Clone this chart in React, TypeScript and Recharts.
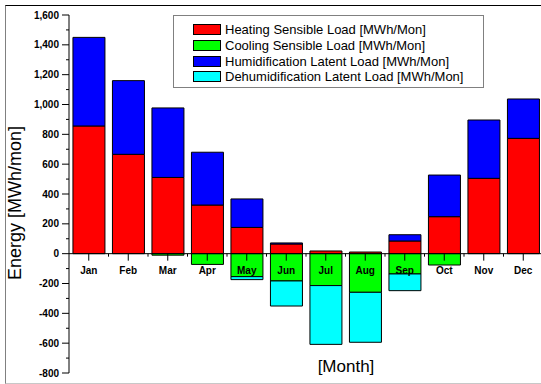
import { BarChart, Bar, XAxis, YAxis, ReferenceLine } from 'recharts';

const months = ['Jan', 'Feb', 'Mar', 'Apr', 'May', 'Jun', 'Jul', 'Aug', 'Sep', 'Oct', 'Nov', 'Dec'];
const heatingSensible = [856, 666, 511, 326, 176, 65, 18, 11, 85, 248, 505, 773];
const coolingSensible = [0, 0, -10, -72, -154, -183, -214, -259, -136, -76, 0, 0];
const humidLatent = [594, 494, 466, 354, 191, 7, 0, 0, 42, 279, 391, 264];
const dehumidLatent = [0, 0, 0, 0, -20, -168, -394, -335, -112, 0, 0, 0];
const yTicks = [-800, -700, -600, -500, -400, -300, -200, -100, 0, 100, 200, 300, 400, 500, 600, 700, 800, 900, 1000, 1100, 1200, 1300, 1400, 1500, 1600];

const SERIES = [
  { key: 'heating', name: 'Heating Sensible Load [MWh/Mon]', color: '#ff0000' },
  { key: 'cooling', name: 'Cooling Sensible Load [MWh/Mon]', color: '#00ff00' },
  { key: 'humid', name: 'Humidification Latent Load [MWh/Mon]', color: '#0000ff' },
  { key: 'dehumid', name: 'Dehumidification Latent Load [MWh/Mon]', color: '#00ffff' },
];

const data = months.map((m, i) => ({
  month: m,
  heating: heatingSensible[i],
  cooling: coolingSensible[i],
  humid: humidLatent[i],
  dehumid: dehumidLatent[i],
}));

// layout
const W = 548;
const H = 384;
const X_H = 1;
const M = { top: 15, right: 5, bottom: 10, left: 9 };
const Y_W = 60;
const PLOT_LEFT = M.left + Y_W;
const PLOT_W = W - PLOT_LEFT - M.right;
const PLOT_H = H - M.top - M.bottom - X_H;
const Y_MIN = -800;
const Y_MAX = 1600;
const ZERO_Y = M.top + (PLOT_H * Y_MAX) / (Y_MAX - Y_MIN);
const BAND = PLOT_W / months.length;

const FONT = '"Liberation Sans", Arial, sans-serif';

const fmt = (v: number) => v.toLocaleString('en-US');

function YTick(props: any) {
  const { y, payload } = props;
  const major = payload.value % 200 === 0;
  return (
    <g>
      <line x1={PLOT_LEFT - (major ? 7 : 3)} x2={PLOT_LEFT} y1={y} y2={y} stroke="#000" />
      {major && (
        <text x={PLOT_LEFT - 10} y={y} dy={3.5} textAnchor="end" fontSize={10} fontWeight="bold" fontFamily={FONT} fill="#000">
          {fmt(payload.value)}
        </text>
      )}
    </g>
  );
}

function XTick(props: any) {
  const { x, payload } = props;
  return (
    <g>
      <line x1={x} x2={x} y1={ZERO_Y} y2={ZERO_Y + 7} stroke="#000" />
      <line x1={x + BAND / 2} x2={x + BAND / 2} y1={ZERO_Y} y2={ZERO_Y + 3} stroke="#000" />
      <text x={x} y={ZERO_Y + 20} textAnchor="middle" fontSize={10} fontWeight="bold" fontFamily={FONT} fill="#000">
        {payload.value}
      </text>
    </g>
  );
}

export default function App() {
  return (
    <div style={{ position: 'absolute', left: 0, top: 0, width: 541, height: 384, overflow: 'hidden', background: '#fff', fontFamily: FONT }}>
      <div style={{ position: 'absolute', left: 5, top: 5, width: 540, height: 377, borderTop: '1px solid #000', borderLeft: '1px solid #808080', borderBottom: '1px solid #c8c8c8' }} />
      <div style={{ position: 'absolute', left: 0, top: 0 }}>
        <BarChart width={W} height={H} data={data} margin={M} stackOffset="sign" barCategoryGap="10%">
          <XAxis dataKey="month" height={X_H} axisLine={false} tickLine={false} interval={0} tick={<XTick />} />
          <YAxis
            width={Y_W}
            domain={[Y_MIN, Y_MAX]}
            ticks={yTicks}
            interval={0}
            allowDataOverflow
            axisLine={{ stroke: '#000' }}
            tickLine={false}
            tick={<YTick />}
          />
          {SERIES.map((s) => (
            <Bar key={s.key} dataKey={s.key} name={s.name} stackId="a" fill={s.color} stroke="#000" strokeWidth={1} isAnimationActive={false} />
          ))}
          <ReferenceLine y={0} stroke="#000" />
        </BarChart>
      </div>
      <div style={{ position: 'absolute', left: 173, top: 15, width: 309, height: 71, border: '1px solid #808080', background: '#fff' }}>
        {SERIES.map((s, i) => (
          <div key={s.key} style={{ position: 'absolute', left: 19, top: 7 + i * 15.8, height: 13, display: 'flex', alignItems: 'center', whiteSpace: 'nowrap' }}>
            <span style={{ display: 'inline-block', width: 26, height: 9, background: s.color, border: '1px solid #000' }} />
            <span style={{ marginLeft: 4, fontSize: 13, color: '#000' }}>{s.name}</span>
          </div>
        ))}
      </div>
      <div style={{ position: 'absolute', left: 15, top: 203, transform: 'translate(-50%, -50%) rotate(-90deg)', fontSize: 18, whiteSpace: 'nowrap', color: '#000' }}>
        Energy [MWh/mon]
      </div>
      <div style={{ position: 'absolute', left: 346, top: 357, transform: 'translateX(-50%)', fontSize: 17, whiteSpace: 'nowrap', color: '#000' }}>
        [Month]
      </div>
    </div>
  );
}
